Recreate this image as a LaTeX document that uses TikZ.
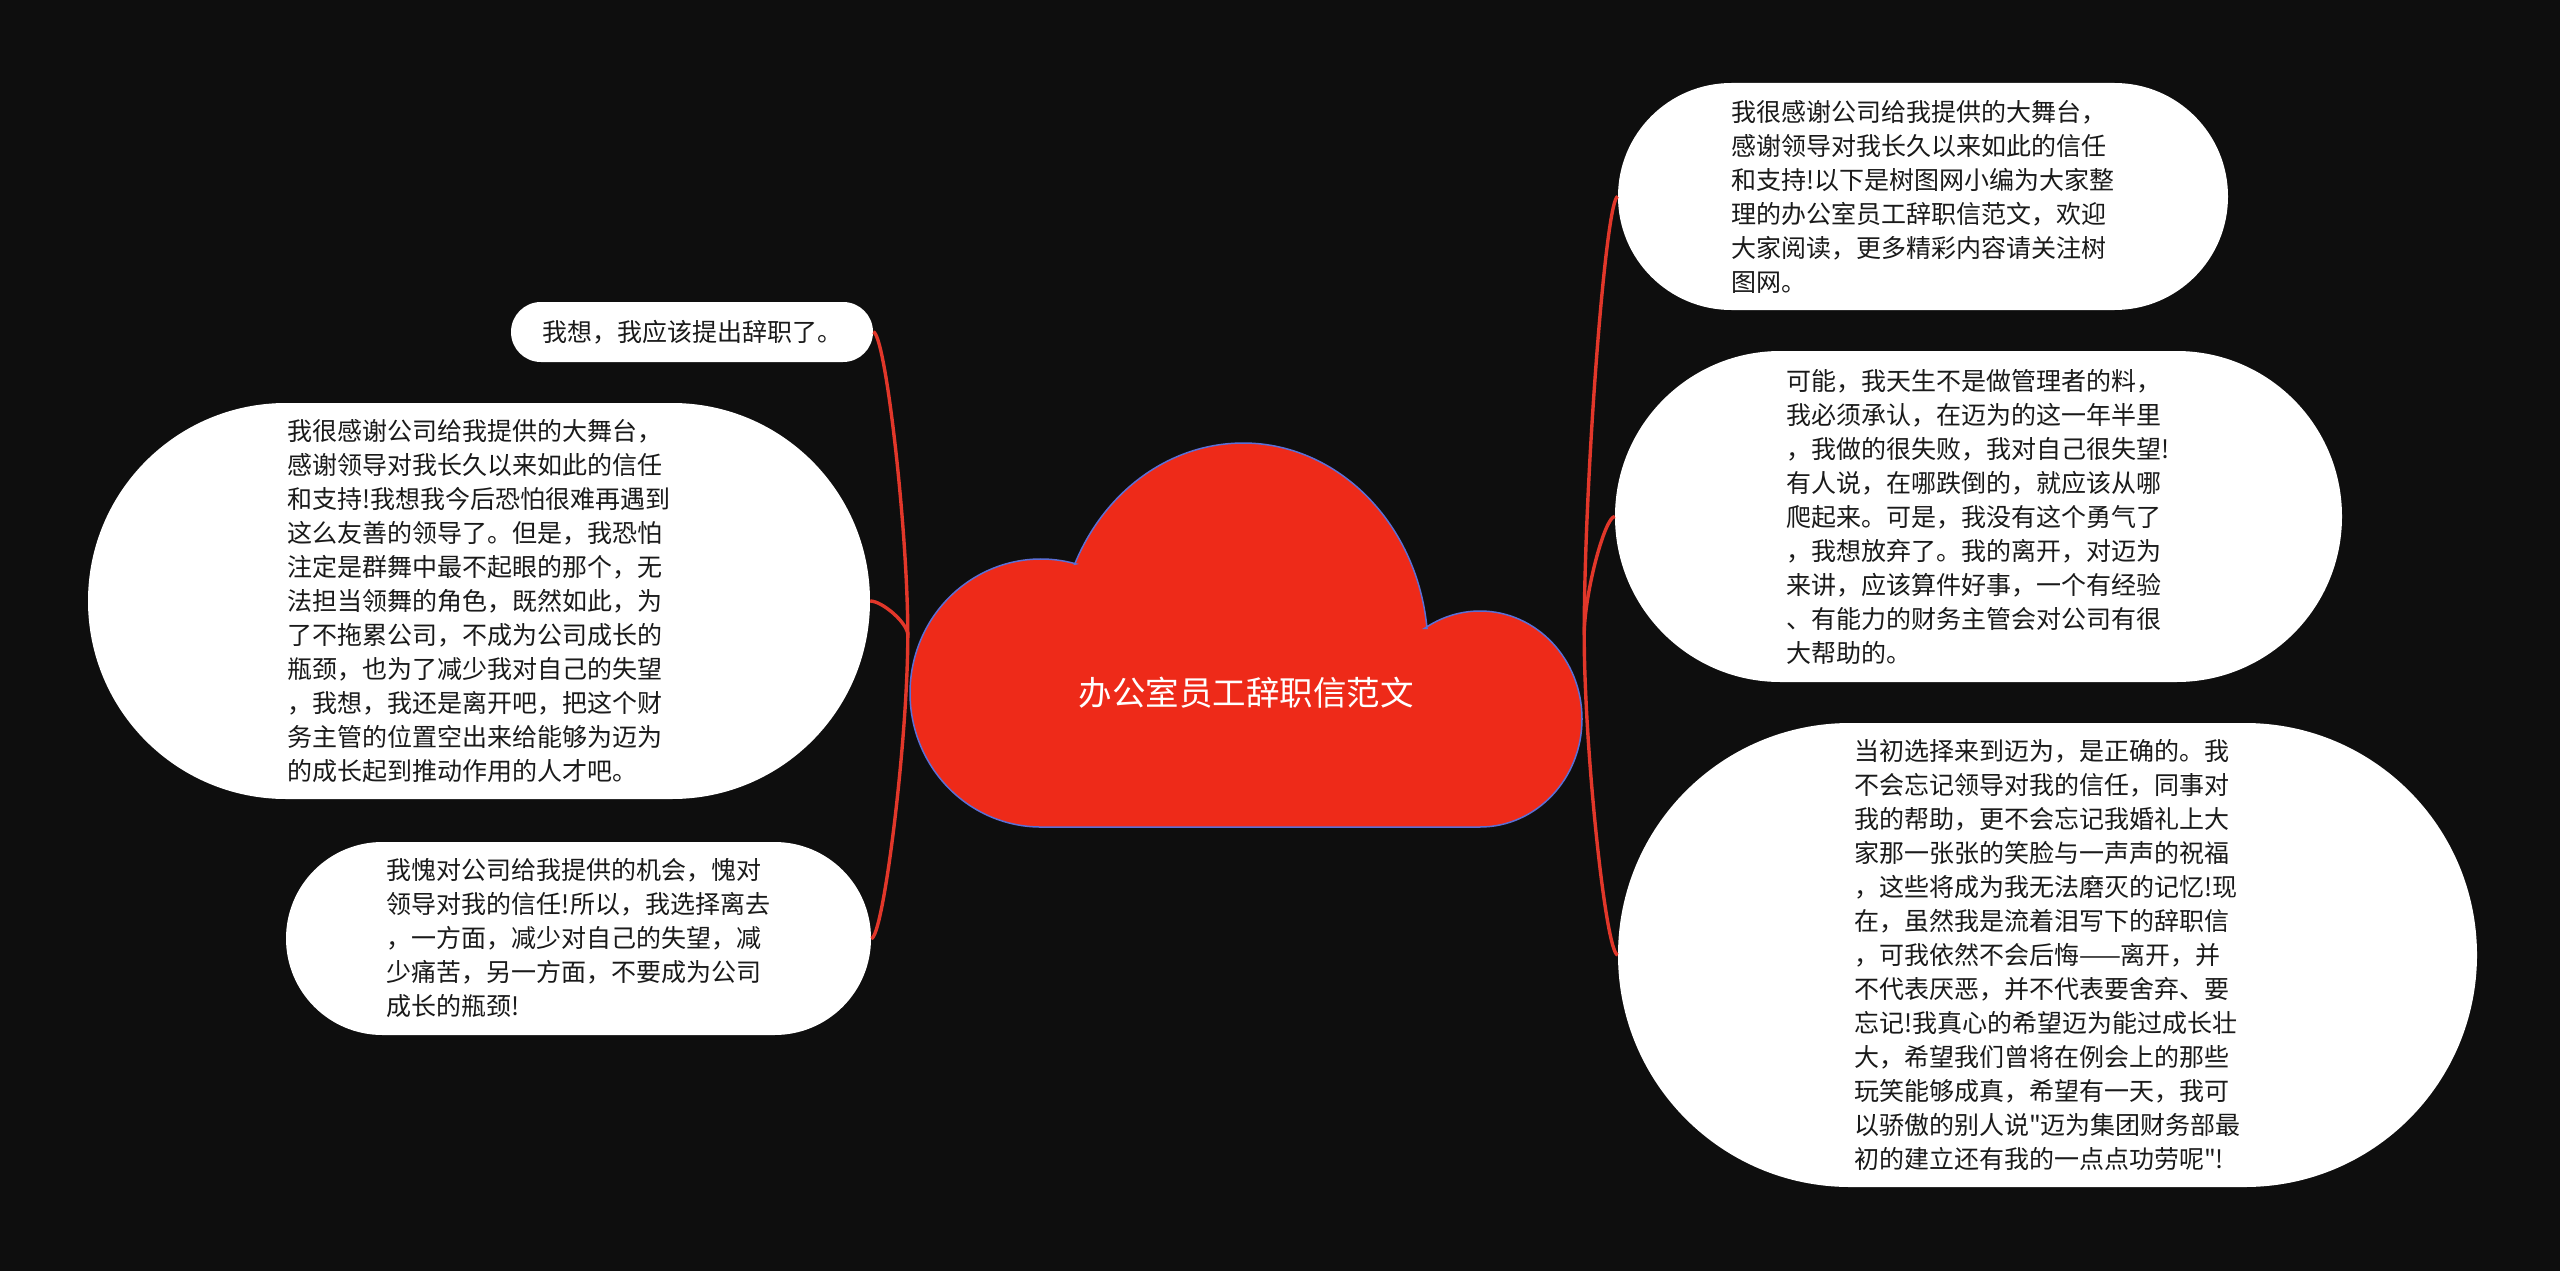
\documentclass[tikz,border=0pt]{standalone}
\usepackage{fontspec}
\newfontfamily\cjk{Noto Sans CJK SC}
\definecolor{bg}{HTML}{0E0E0E}
\definecolor{linkred}{HTML}{E2372A}
\definecolor{cloudred}{HTML}{EE2A19}
\definecolor{cloudline}{HTML}{5B6FD6}
\definecolor{txt}{HTML}{1A1A1A}
\begin{document}
\begin{tikzpicture}[x=1pt,y=-1pt,
  pill/.style={fill=white, inner sep=0pt, align=left, text=txt,
    font=\cjk\fontsize{25pt}{34pt}\selectfont},
  conn/.style={draw=linkred, line width=3.4pt},
]
\useasboundingbox (0,0) rectangle (2560,1271);
\fill[bg] (0,0) rectangle (2560,1271);

% central cloud
\node[minimum width=676pt, minimum height=386pt, inner sep=0pt] (root) at (1246,635) {};
\path[fill=cloudred, draw=cloudline, line width=1.5pt]
  (1041,827) -- (1480,827)
  arc[start angle=-90, end angle=123, x radius=102pt, y radius=108pt]
  -- (1427,628.4)
  arc[start angle=6, end angle=155.5, x radius=185pt, y radius=207pt]
  -- (1076,563.9)
  arc[start angle=74.5, end angle=270, x radius=131pt, y radius=134pt]
  -- cycle;
\node[font=\cjk\fontsize{33.5pt}{40pt}\selectfont, text=white, inner sep=0pt] (title) at (1246,693) {办公室员工辞职信范文};

% left pills
\node[pill, minimum width=362pt, minimum height=60pt, rounded corners=29.9pt] (l1) at (692,332)
 {我想，我应该提出辞职了。};
\node[pill, minimum width=782pt, minimum height=396pt, rounded corners=197.9pt] (l2) at (479,601)
 {我很感谢公司给我提供的大舞台，\\
  感谢领导对我长久以来如此的信任\\
  和支持!我想我今后恐怕很难再遇到\\
  这么友善的领导了。但是，我恐怕\\
  注定是群舞中最不起眼的那个，无\\
  法担当领舞的角色，既然如此，为\\
  了不拖累公司，不成为公司成长的\\
  瓶颈，也为了减少我对自己的失望\\
  ，我想，我还是离开吧，把这个财\\
  务主管的位置空出来给能够为迈为\\
  的成长起到推动作用的人才吧。};
\node[pill, minimum width=585pt, minimum height=193pt, rounded corners=96.4pt] (l3) at (578.5,938.5)
 {我愧对公司给我提供的机会，愧对\\
  领导对我的信任!所以，我选择离去\\
  ，一方面，减少对自己的失望，减\\
  少痛苦，另一方面，不要成为公司\\
  成长的瓶颈!};

% right pills
\node[pill, minimum width=610pt, minimum height=227pt, rounded corners=113.4pt] (r1) at (1923,196.5)
 {我很感谢公司给我提供的大舞台，\\
  感谢领导对我长久以来如此的信任\\
  和支持!以下是树图网小编为大家整\\
  理的办公室员工辞职信范文，欢迎\\
  大家阅读，更多精彩内容请关注树\\
  图网。};
\node[pill, minimum width=727pt, minimum height=331pt, rounded corners=165.4pt] (r2) at (1978.5,516.5)
 {可能，我天生不是做管理者的料，\\
  我必须承认，在迈为的这一年半里\\
  ，我做的很失败，我对自己很失望!\\
  有人说，在哪跌倒的，就应该从哪\\
  爬起来。可是，我没有这个勇气了\\
  ，我想放弃了。我的离开，对迈为\\
  来讲，应该算件好事，一个有经验\\
  、有能力的财务主管会对公司有很\\
  大帮助的。};
\node[pill, minimum width=859pt, minimum height=464pt, rounded corners=231.9pt] (r3) at (2047.5,955)
 {当初选择来到迈为，是正确的。我\\
  不会忘记领导对我的信任，同事对\\
  我的帮助，更不会忘记我婚礼上大\\
  家那一张张的笑脸与一声声的祝福\\
  ，这些将成为我无法磨灭的记忆!现\\
  在，虽然我是流着泪写下的辞职信\\
  ，可我依然不会后悔——离开，并\\
  不代表厌恶，并不代表要舍弃、要\\
  忘记!我真心的希望迈为能过成长壮\\
  大，希望我们曾将在例会上的那些\\
  玩笑能够成真，希望有一天，我可\\
  以骄傲的别人说"迈为集团财务部最\\
  初的建立还有我的一点点功劳呢"!};

% connectors
\draw[conn] (l1.east) .. controls +(12,0) and +(0,-106) .. (root.west);
\draw[conn] (l2.east) .. controls +(12,0) and +(0,-12) .. (root.west);
\draw[conn] (l3.east) .. controls +(12,0) and +(0,106) .. (root.west);
\draw[conn] (r1.west) .. controls +(-12,0) and +(0,-153) .. (root.east);
\draw[conn] (r2.west) .. controls +(-10,0) and +(0,-41) .. (root.east);
\draw[conn] (r3.west) .. controls +(-12,0) and +(0,112) .. (root.east);
\end{tikzpicture}
\end{document}
